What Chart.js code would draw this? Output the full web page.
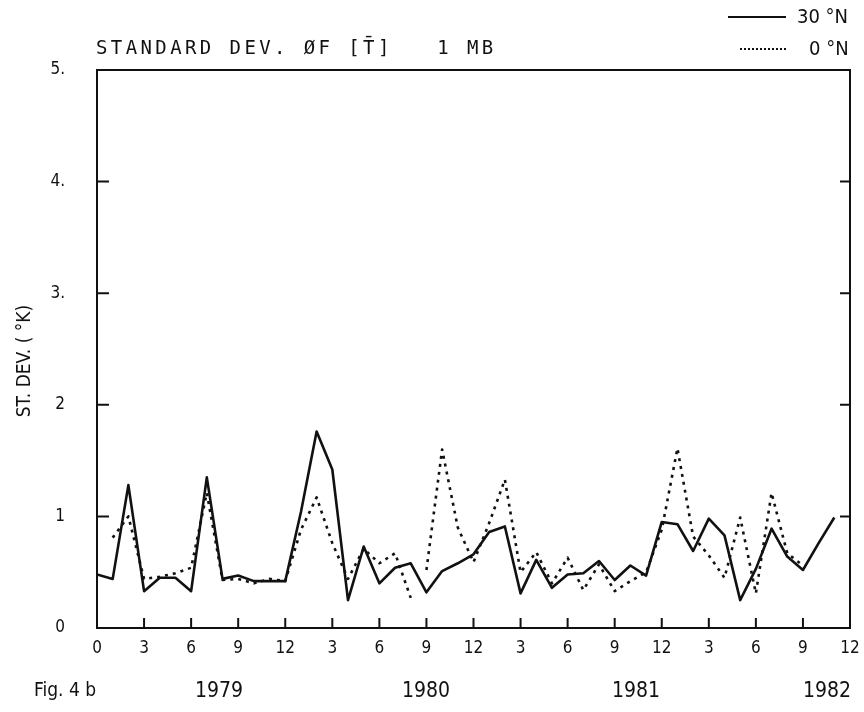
<!DOCTYPE html>
<html>
<head>
<meta charset="utf-8">
<script src="https://cdn.jsdelivr.net/npm/chart.js@4/dist/chart.umd.min.js"></script>
<style>
  body { margin: 0; background: #fff; }
  #wrap { position: relative; width: 864px; height: 712px; font-family: "DejaVu Sans Condensed", "Liberation Sans Narrow", sans-serif; color: #111; }
  canvas { position: absolute; left: 0; top: 0; }
  .lbl { position: absolute; white-space: nowrap; }
  .leg { position: absolute; height: 0; }
</style>
</head>
<body>
<div id="wrap">
  <canvas id="chart" width="864" height="712"></canvas>
  <div class="lbl" style="left:96px; top:36px; font-family:'DejaVu Sans Mono', monospace; font-size:19px; letter-spacing:3.4px;">STANDARD DEV. ØF [T&#x0304;]&nbsp;&nbsp;&nbsp;1 MB</div>
  <div class="leg" style="left:728px; top:16px; width:58px; border-top:2px solid #111;"></div>
  <div class="lbl" style="left:797px; top:4px; font-size:20px;">30 °N</div>
  <div class="leg" style="left:740px; top:48px; width:46px; border-top:2px dotted #111;"></div>
  <div class="lbl" style="left:809px; top:36px; font-size:20px;">0 °N</div>
  <div class="lbl" style="left:8px; top:361px; font-size:19px; transform:translate(0,-50%) rotate(-90deg); transform-origin:center; width:180px; margin-left:-75px; text-align:center;">ST. DEV. ( °K)</div>
  <div class="lbl" style="left:34px; top:678px; font-size:19px;">Fig. 4 b</div>
  <div class="lbl" style="left:195px; top:678px; font-size:21px;">1979</div>
  <div class="lbl" style="left:402px; top:678px; font-size:21px;">1980</div>
  <div class="lbl" style="left:612px; top:678px; font-size:21px;">1981</div>
  <div class="lbl" style="left:803px; top:678px; font-size:21px;">1982</div>
</div>
<script>
// months since Jan 1979
const months = [];
for (let m = 0; m < 48; m++) months.push(m);

const lat30 = [0.48, 0.44, 1.28, 0.33, 0.45, 0.45, 0.33, 1.35, 0.44, 0.47, 0.42, 0.42,
               0.42, 1.04, 1.76, 1.42, 0.25, 0.73, 0.40, 0.54, 0.58, 0.32, 0.51, 0.58,
               0.66, 0.86, 0.91, 0.31, 0.61, 0.36, 0.48, 0.49, 0.60, 0.43, 0.56, 0.47,
               0.95, 0.93, 0.69, 0.98, 0.83, 0.25, 0.53, 0.89, 0.64, 0.52, 0.76, 0.99];

const lat0 = [null, 0.81, 1.00, 0.44, 0.46, 0.49, 0.54, 1.21, 0.43, 0.44, 0.40, 0.44,
              0.42, 0.88, 1.17, 0.76, 0.44, 0.71, 0.58, 0.67, 0.27, 0.52, 1.60, 0.90,
              0.59, 0.94, 1.33, 0.50, 0.68, 0.40, 0.63, 0.34, 0.57, 0.33, 0.42, 0.50,
              0.88, 1.61, 0.82, 0.65, 0.45, 0.99, 0.31, 1.21, 0.67, 0.56, null, null];

const xTicks = [0, 3, 6, 9, 12, 15, 18, 21, 24, 27, 30, 33, 36, 39, 42, 45, 48];
const xTickLabels = ['0', '3', '6', '9', '12', '3', '6', '9', '12', '3', '6', '9', '12', '3', '6', '9', '12'];
const yTicks = [0, 1, 2, 3, 4, 5];
const yTickLabels = ['0', '1', '2', '3.', '4.', '5.'];

const ink = '#111';

const framePlugin = {
  id: 'frame',
  afterDraw(chart) {
    const ctx = chart.ctx;
    const a = chart.chartArea;
    const xs = chart.scales.x, ys = chart.scales.y;
    ctx.save();
    ctx.strokeStyle = ink;
    ctx.lineWidth = 2;
    ctx.strokeRect(a.left, a.top, a.right - a.left, a.bottom - a.top);
    ctx.beginPath();
    xTicks.forEach(v => {
      const px = xs.getPixelForValue(v);
      ctx.moveTo(px, a.bottom);
      ctx.lineTo(px, a.bottom - 10);
    });
    [1, 2, 3, 4].forEach(v => {
      const py = ys.getPixelForValue(v);
      ctx.moveTo(a.left, py);
      ctx.lineTo(a.left + 12, py);
      ctx.moveTo(a.right, py);
      ctx.lineTo(a.right - 10, py);
    });
    ctx.stroke();
    ctx.restore();
  }
};

const points = (arr) => months.map((m, i) => ({ x: m, y: arr[i] }));

new Chart(document.getElementById('chart'), {
  type: 'line',
  data: {
    datasets: [
      {
        label: '30 °N',
        data: points(lat30),
        borderColor: ink,
        borderWidth: 2.6,
        borderJoinStyle: 'round',
        pointRadius: 0,
        tension: 0
      },
      {
        label: '0 °N',
        data: points(lat0),
        borderColor: ink,
        borderWidth: 2.6,
        borderDash: [3, 5],
        borderJoinStyle: 'round',
        pointRadius: 0,
        tension: 0,
        spanGaps: false,
        segment: {
          // the plotter left this piece out
          borderColor: c => (c.p0DataIndex === 20 ? 'rgba(0,0,0,0)' : ink)
        }
      }
    ]
  },
  options: {
    responsive: false,
    animation: false,
    layout: { padding: { left: 0, right: 14, top: 70, bottom: 0 } },
    plugins: { legend: { display: false }, tooltip: { enabled: false } },
    scales: {
      x: {
        type: 'linear',
        min: 0,
        max: 48,
        afterFit: s => { s.height = 84; s.paddingLeft = 0; s.paddingRight = 0; },
        afterBuildTicks: s => { s.ticks = xTicks.map(v => ({ value: v })); },
        ticks: {
          padding: 10,
          maxRotation: 0,
          autoSkip: false,
          color: ink,
          font: { family: '"DejaVu Sans Condensed", "Liberation Sans Narrow", sans-serif', size: 17 },
          callback: (v) => xTickLabels[xTicks.indexOf(v)]
        },
        grid: { display: false, drawTicks: false },
        border: { display: false }
      },
      y: {
        min: 0,
        max: 5,
        afterFit: s => { s.width = 97; },
        afterBuildTicks: s => { s.ticks = yTicks.map(v => ({ value: v })); },
        ticks: {
          padding: 32,
          color: ink,
          font: { family: '"DejaVu Sans Condensed", "Liberation Sans Narrow", sans-serif', size: 17 },
          callback: (v) => yTickLabels[yTicks.indexOf(v)]
        },
        grid: { display: false, drawTicks: false },
        border: { display: false }
      }
    }
  },
  plugins: [framePlugin]
});
</script>
</body>
</html>
